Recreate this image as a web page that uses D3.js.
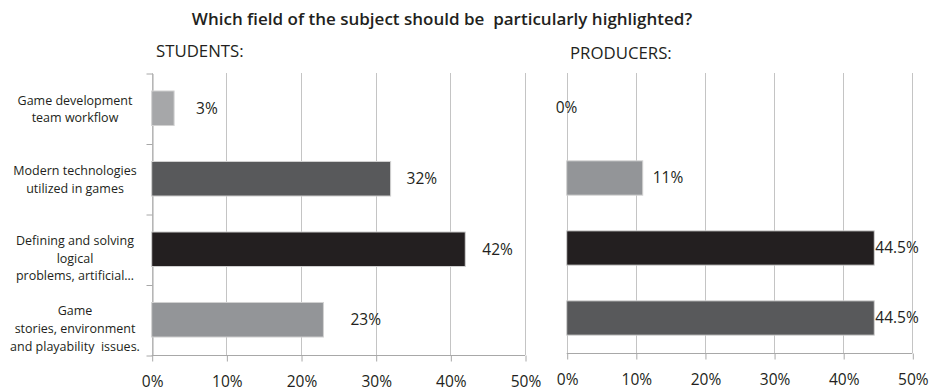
<!DOCTYPE html>
<html>
<head>
<meta charset="utf-8">
<script src="https://cdn.jsdelivr.net/npm/d3@7/dist/d3.min.js"></script>
<style>
  html, body { margin: 0; padding: 0; background: #fff; }
  svg { display: block; }
  text { font-family: "Open Sans", "DejaVu Sans", sans-serif; fill: #231f20; }
</style>
</head>
<body>
<svg id="chart" width="930" height="392"></svg>
<script>
// Survey answers: which field of the subject should be highlighted
const categories = [
  "Game development\nteam workflow",
  "Modern technologies\nutilized in games",
  "Defining and solving\nlogical\nproblems, artificial\u2026",
  "Game\nstories, environment\nand playability  issues."
];
const studentValues = [3, 32, 42, 23];
const producerValues = [0, 11, 44.5, 44.5];
const tickValues = [0, 10, 20, 30, 40, 50];
const tickLabels = ["0%", "10%", "20%", "30%", "40%", "50%"];
const studentLabels = ["3%", "32%", "42%", "23%"];
const producerLabels = ["0%", "11%", "44.5%", "44.5%"];

// Presentation settings
const studentColors = ["#a6a7a9", "#58595b", "#231f20", "#939598"];
const producerColors = ["#a6a7a9", "#939598", "#231f20", "#58595b"];
const studentLabelGap = [22, 16, 17, 27];
const producerLabelGap = [-11, 10, 1, 1];

const svg = d3.select("#chart");

svg.append("text")
  .attr("x", 442).attr("y", 25)
  .attr("text-anchor", "middle")
  .style("font-size", "17px").style("font-weight", 600)
  .attr("xml:space", "preserve")
  .text("Which field of the subject should be  particularly highlighted?");

svg.append("text").attr("x", 156).attr("y", 57)
  .style("font-size", "16.8px")
  .text("STUDENTS:");
svg.append("text").attr("x", 570).attr("y", 59)
  .style("font-size", "16.8px")
  .text("PRODUCERS:");

function panel(opts) {
  const g = svg.append("g");
  const x = d3.scaleLinear().domain([0, 50]).range([opts.x0, opts.x1]);
  const y = d3.scaleBand().domain(d3.range(categories.length))
    .range([opts.top, opts.bottom]).paddingInner(0.51).paddingOuter(0.255);
  const yEdges = d3.scaleLinear().domain([0, categories.length]).range([opts.top, opts.bottom]);

  // vertical gridlines
  g.append("g").selectAll("line").data(tickValues).join("line")
    .attr("x1", d => Math.round(x(d)) + 0.5).attr("x2", d => Math.round(x(d)) + 0.5)
    .attr("y1", opts.top).attr("y2", opts.bottom)
    .attr("stroke", "#c4c4c4").attr("stroke-width", 1);

  // bottom axis
  const xAxis = g.append("g")
    .attr("transform", `translate(0.5,${Math.round(opts.bottom) + 0.5})`)
    .call(d3.axisBottom(x).tickValues(tickValues)
      .tickFormat((d, i) => tickLabels[i]).tickSize(6).tickPadding(14));
  xAxis.select(".domain").attr("stroke", "#a8a8a8").attr("d", `M${x(0) - 0.5},0H${x(50) - 0.5}`);
  xAxis.selectAll(".tick line").attr("stroke", "#a8a8a8");
  xAxis.selectAll(".tick text")
    .style("font-family", "\"Open Sans\", sans-serif")
    .style("font-size", "15.5px").attr("fill", "#231f20");

  // category axis with ticks on band edges
  if (opts.leftAxis) {
    const yAxis = g.append("g")
      .attr("transform", `translate(${Math.round(opts.x0) + 0.5},0.5)`)
      .call(d3.axisLeft(yEdges).tickValues(d3.range(categories.length + 1))
        .tickFormat("").tickSize(6).tickSizeOuter(0));
    yAxis.selectAll("path, line").attr("stroke", "#a8a8a8");

    // category labels
    const lab = g.append("g").selectAll("text").data(categories).join("text")
      .attr("text-anchor", "middle")
      .style("font-size", "12.5px")
      .attr("xml:space", "preserve");
    lab.each(function (d, i) {
      const lines = d.split("\n");
      const lh = 17.7;
      const cy = y(i) + y.bandwidth() / 2 + (lines.length - 2) * 8 + 1;
      const y0 = cy - (lines.length - 1) * lh / 2;
      d3.select(this).selectAll("tspan").data(lines).join("tspan")
        .attr("x", 75).attr("y", (l, k) => y0 + k * lh)
        .attr("dy", "0.35em").text(l => l);
    });
  }

  // bars
  g.append("g").selectAll("rect").data(opts.values).join("rect")
    .attr("x", x(0))
    .attr("y", (d, i) => y(i))
    .attr("width", d => x(d) - x(0))
    .attr("height", y.bandwidth())
    .attr("fill", (d, i) => opts.colors[i])
    .attr("stroke", d => d > 0 ? "#d2d2d2" : "none")
    .attr("stroke-width", 1);

  // value labels
  g.append("g").selectAll("text").data(opts.values).join("text")
    .attr("x", (d, i) => x(d) + opts.gaps[i])
    .attr("y", (d, i) => y(i) + y.bandwidth() / 2)
    .attr("dy", "0.35em")
    .style("font-size", "15.5px")
    .text((d, i) => opts.labels[i]);
}

panel({ x0: 151.7, x1: 525, top: 73, bottom: 355, values: studentValues,
  colors: studentColors, labels: studentLabels, gaps: studentLabelGap, leftAxis: true });
panel({ x0: 566.7, x1: 912.3, top: 73, bottom: 353, values: producerValues,
  colors: producerColors, labels: producerLabels, gaps: producerLabelGap, leftAxis: false });
</script>
</body>
</html>
